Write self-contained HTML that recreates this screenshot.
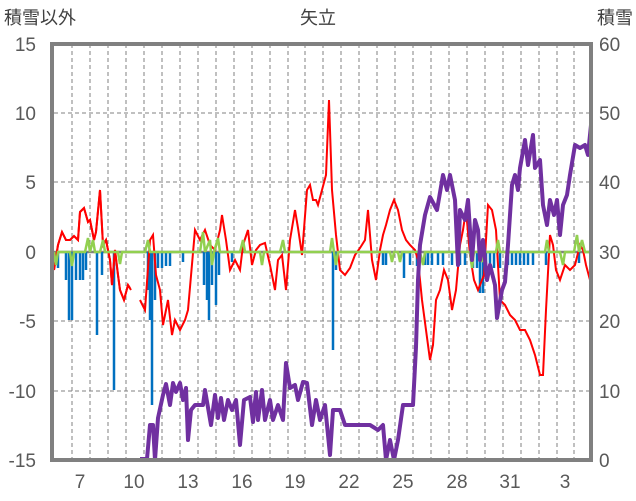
<!DOCTYPE html>
<html><head><meta charset="utf-8"><style>
body{margin:0;background:#fff;}
svg{display:block;font-family:"Liberation Sans","Noto Sans CJK JP",sans-serif;}
</style></head><body>
<svg width="636" height="501" viewBox="0 0 636 501">
<g stroke="#808080" stroke-width="1" stroke-dasharray="4,3">
<line x1="54" y1="113" x2="590" y2="113"/><line x1="54" y1="182" x2="590" y2="182"/>
<line x1="54" y1="321" x2="590" y2="321"/><line x1="54" y1="391" x2="590" y2="391"/>
<g id="vg"></g>
</g>
<g stroke="#808080" stroke-width="1" stroke-dasharray="4,3">
<line x1="72" y1="44" x2="72" y2="460"/><line x1="90" y1="44" x2="90" y2="460"/><line x1="108" y1="44" x2="108" y2="460"/><line x1="126" y1="44" x2="126" y2="460"/><line x1="144" y1="44" x2="144" y2="460"/><line x1="162" y1="44" x2="162" y2="460"/><line x1="180" y1="44" x2="180" y2="460"/><line x1="198" y1="44" x2="198" y2="460"/><line x1="216" y1="44" x2="216" y2="460"/><line x1="234" y1="44" x2="234" y2="460"/><line x1="252" y1="44" x2="252" y2="460"/><line x1="270" y1="44" x2="270" y2="460"/><line x1="288" y1="44" x2="288" y2="460"/><line x1="305" y1="44" x2="305" y2="460"/><line x1="323" y1="44" x2="323" y2="460"/><line x1="341" y1="44" x2="341" y2="460"/><line x1="359" y1="44" x2="359" y2="460"/><line x1="377" y1="44" x2="377" y2="460"/><line x1="395" y1="44" x2="395" y2="460"/><line x1="413" y1="44" x2="413" y2="460"/><line x1="431" y1="44" x2="431" y2="460"/><line x1="449" y1="44" x2="449" y2="460"/><line x1="467" y1="44" x2="467" y2="460"/><line x1="485" y1="44" x2="485" y2="460"/><line x1="503" y1="44" x2="503" y2="460"/><line x1="521" y1="44" x2="521" y2="460"/><line x1="539" y1="44" x2="539" y2="460"/><line x1="557" y1="44" x2="557" y2="460"/><line x1="574" y1="44" x2="574" y2="460"/>
</g>
<line x1="54" y1="252" x2="590" y2="252" stroke="#808080" stroke-width="2.5"/>
<g stroke="#0070c0" stroke-width="2.5">
<line x1="58" y1="252" x2="58" y2="268"/><line x1="66" y1="252" x2="66" y2="280"/><line x1="69" y1="252" x2="69" y2="320"/><line x1="72" y1="252" x2="72" y2="320"/><line x1="76" y1="252" x2="76" y2="280"/><line x1="80" y1="252" x2="80" y2="280"/><line x1="83" y1="252" x2="83" y2="280"/><line x1="86" y1="252" x2="86" y2="270"/><line x1="97" y1="252" x2="97" y2="335"/><line x1="102" y1="252" x2="102" y2="275"/><line x1="114" y1="252" x2="114" y2="390"/><line x1="148" y1="252" x2="148" y2="290"/><line x1="150" y1="252" x2="150" y2="320"/><line x1="152" y1="252" x2="152" y2="405"/><line x1="155" y1="252" x2="155" y2="300"/><line x1="158" y1="252" x2="158" y2="268"/><line x1="162" y1="252" x2="162" y2="268"/><line x1="166" y1="252" x2="166" y2="266"/><line x1="170" y1="252" x2="170" y2="266"/><line x1="183" y1="252" x2="183" y2="262"/><line x1="204" y1="252" x2="204" y2="285"/><line x1="207" y1="252" x2="207" y2="300"/><line x1="209" y1="252" x2="209" y2="320"/><line x1="212" y1="252" x2="212" y2="285"/><line x1="216" y1="252" x2="216" y2="305"/><line x1="219" y1="252" x2="219" y2="275"/><line x1="232" y1="252" x2="232" y2="262"/><line x1="333" y1="252" x2="333" y2="350"/><line x1="336" y1="252" x2="336" y2="270"/><line x1="383" y1="252" x2="383" y2="265"/><line x1="386" y1="252" x2="386" y2="265"/><line x1="404" y1="252" x2="404" y2="278"/><line x1="410" y1="252" x2="410" y2="265"/><line x1="417" y1="252" x2="417" y2="266"/><line x1="425" y1="252" x2="425" y2="265"/><line x1="428" y1="252" x2="428" y2="265"/><line x1="432" y1="252" x2="432" y2="265"/><line x1="438" y1="252" x2="438" y2="265"/><line x1="443" y1="252" x2="443" y2="265"/><line x1="452" y1="252" x2="452" y2="265"/><line x1="460" y1="252" x2="460" y2="265"/><line x1="465" y1="252" x2="465" y2="265"/><line x1="473" y1="252" x2="473" y2="268"/><line x1="477" y1="252" x2="477" y2="268"/><line x1="480" y1="252" x2="480" y2="293"/><line x1="483" y1="252" x2="483" y2="293"/><line x1="486" y1="252" x2="486" y2="268"/><line x1="490" y1="252" x2="490" y2="268"/><line x1="494" y1="252" x2="494" y2="268"/><line x1="500" y1="252" x2="500" y2="268"/><line x1="508" y1="252" x2="508" y2="265"/><line x1="512" y1="252" x2="512" y2="265"/><line x1="516" y1="252" x2="516" y2="265"/><line x1="520" y1="252" x2="520" y2="265"/><line x1="524" y1="252" x2="524" y2="265"/><line x1="528" y1="252" x2="528" y2="265"/><line x1="533" y1="252" x2="533" y2="265"/><line x1="546" y1="252" x2="546" y2="265"/><line x1="579" y1="252" x2="579" y2="263"/>
</g>
<polyline fill="none" stroke="#ff0000" stroke-width="2" points="54,270 58,245 62,232 66,240 70,240 74,236 78,240 80,212 84,208 88,222 90,220 94,240 96,232 100,190 103,245 106,240 110,260 112,285 115,250 118,275 120,290 124,300 128,285 130,288 M"/>
<polyline fill="none" stroke="#ff0000" stroke-width="2" points="54,270 58,245 62,232 66,240 70,240 74,236 78,240 80,212 84,208 88,222 90,220 94,240 96,232 100,190 103,245 106,240 110,260 112,285 115,250 118,275 120,290 124,300 128,285 131,290"/>
<polyline fill="none" stroke="#ff0000" stroke-width="2" points="140,300 145,310 150,240 153,235 156,275 160,290 163,325 168,300 172,335 175,320 180,330 185,320 188,310 195,230 200,240 205,230 210,245 215,250 220,230 222,215 226,240 230,270 235,260 240,270 243,245 248,230 252,265 256,250 260,245 265,243 270,265 275,290 278,260 282,255 286,290 290,240 295,210 298,228 302,255 307,190 310,185 313,200 316,200 318,205 322,190 326,175 329,100 332,190 336,235 340,270 345,275 350,268 355,255 360,248 365,240 368,210 372,260 376,280 380,250 383,235 386,225 390,210 394,200 398,210 402,230 406,240 410,245 415,250 418,260 422,300 426,330 430,360 433,345 436,300 440,290 444,270 448,280 452,310 456,290 460,245 463,230 466,210 470,255 474,280 478,290 480,285 484,275 488,205 492,210 496,230 500,300 505,305 510,315 515,320 520,330 525,330 530,340 535,355 540,375 543,375 546,310 550,235 553,245 556,270 560,280 565,265 570,270 575,265 580,245 583,250 586,265 590,280"/>
<polyline fill="none" stroke="#92d050" stroke-width="2.5" points="54,252 56,265 58,252 70,252 72,266 74,252 85,252 88,238 90,252 93,240 95,252 100,252 103,240 105,252 118,252 120,264 122,252 145,252 148,240 150,252 200,252 203,232 205,252 210,240 212,265 214,252 218,238 220,252 240,252 243,240 245,252 260,252 262,265 264,252 280,252 283,240 285,252 330,252 332,238 334,252 336,265 338,252 390,252 392,262 394,252 398,252 400,262 402,252 420,252 423,265 425,252 470,252 472,268 474,252 480,252 482,262 485,252 496,252 498,240 500,252 545,252 547,240 549,252 560,252 563,265 565,252 574,252 577,235 579,252 582,240 585,252 590,252"/>
<polyline fill="none" stroke="#7030a0" stroke-width="4" stroke-linejoin="round" points="54,460 132,460"/>
<polyline fill="none" stroke="#7030a0" stroke-width="4" stroke-linejoin="round" points="140,459 147,459 150,425 153,425 155,460 158,418 163,395 166,384 170,405 173,383 176,392 180,383 183,400 186,388 188,440 191,410 195,405 203,405 205,390 211,425 215,395 218,418 221,398 224,420 228,400 232,410 236,400 240,445 244,400 250,397 253,422 256,392 258,420 262,390 265,420 270,400 273,420 278,405 283,420 286,363 290,388 295,385 298,400 303,382 307,383 312,425 316,400 320,420 325,405 330,455 333,410 340,410 345,425 352,425 360,425 370,425 378,430 383,425 386,460 390,440 394,460 398,440 403,405 413,405 416,347 418,280 420,245 425,215 430,197 437,210 443,175 447,190 450,175 455,200 458,265 460,210 465,220 468,200 472,260 475,220 478,230 480,260 483,240 487,280 490,265 495,285 497,318 502,290 505,282 508,245 512,185 515,175 518,190 520,168 525,140 528,165 533,135 535,168 540,160 543,205 547,225 550,200 554,215 557,200 560,235 563,205 567,195 570,175 575,145 580,148 585,145 588,155 591,125"/>
<path d="M52,44 V460 H591 V44 Z" fill="none" stroke="#808080" stroke-width="4"/>
<g font-size="19" fill="#595959" text-anchor="end">
<text x="36" y="51">15</text><text x="36" y="120">10</text><text x="36" y="189">5</text><text x="36" y="259">0</text><text x="36" y="328">-5</text><text x="36" y="398">-10</text><text x="36" y="467">-15</text>
</g>
<g font-size="19" fill="#595959">
<text x="599" y="51">60</text><text x="599" y="120">50</text><text x="599" y="189">40</text><text x="599" y="259">30</text><text x="599" y="328">20</text><text x="599" y="398">10</text><text x="599" y="467">0</text>
</g>
<g font-size="19" fill="#595959" text-anchor="middle">
<text x="80" y="488">7</text><text x="134" y="488">10</text><text x="188" y="488">13</text><text x="242" y="488">16</text><text x="295" y="488">19</text><text x="349" y="488">22</text><text x="403" y="488">25</text><text x="457" y="488">28</text><text x="510" y="488">31</text><text x="565" y="488">3</text>
</g>
<text x="4" y="24" font-size="18" fill="#404040">積雪以外</text>
<text x="318" y="24" font-size="18" fill="#404040" text-anchor="middle">矢立</text>
<text x="633" y="24" font-size="18" fill="#404040" text-anchor="end">積雪</text>
</svg>
</body></html>
